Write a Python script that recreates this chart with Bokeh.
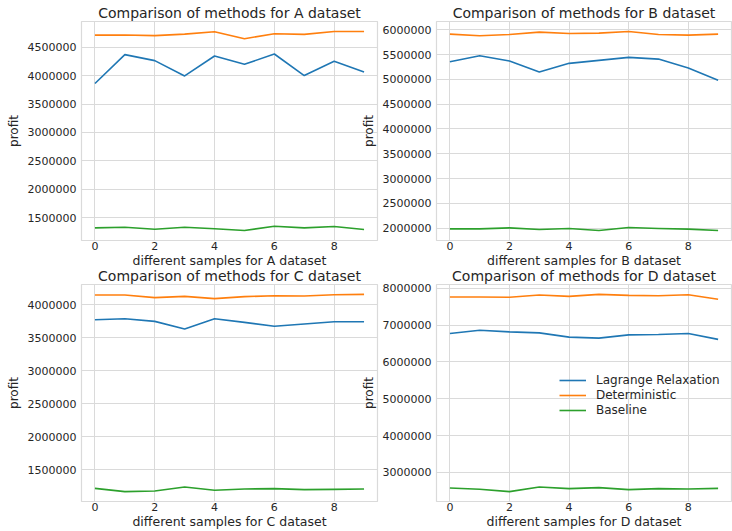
from bokeh.plotting import figure
from bokeh.layouts import column, row
from bokeh.models import FixedTicker, BasicTickFormatter, Range1d
from bokeh.embed import file_html
from bokeh.resources import INLINE

samples = list(range(10))
x_ticks = [0, 2, 4, 6, 8]
series_names = ["Lagrange Relaxation", "Deterministic", "Baseline"]
series_colors = ["#1f77b4", "#ff7f0e", "#2ca02c"]

# dataset A
a_lagrange = [3860000, 4367000, 4262000, 3993000, 4343000, 4198000, 4378000, 4000000, 4250000, 4063000]
a_determ = [4710000, 4712000, 4700000, 4727000, 4769000, 4647000, 4734000, 4722000, 4774000, 4774000]
a_base = [1325000, 1336000, 1300000, 1336000, 1310000, 1278000, 1353000, 1325000, 1348000, 1295000]
a_yticks = [1500000, 2000000, 2500000, 3000000, 3500000, 4000000, 4500000]

# dataset B
b_lagrange = [5357000, 5477000, 5369000, 5148000, 5323000, 5383000, 5443000, 5409000, 5228000, 4981000]
b_determ = [5912000, 5879000, 5905000, 5953000, 5926000, 5932000, 5966000, 5905000, 5892000, 5912000]
b_base = [1986000, 1986000, 2006000, 1972000, 1992000, 1952000, 2012000, 1992000, 1980000, 1952000]
b_yticks = [2000000, 2500000, 3000000, 3500000, 4000000, 4500000, 5000000, 5500000, 6000000]

# dataset C
c_lagrange = [3775000, 3790000, 3750000, 3634000, 3790000, 3735000, 3675000, 3710000, 3745000, 3745000]
c_determ = [4150000, 4150000, 4110000, 4130000, 4095000, 4125000, 4140000, 4135000, 4155000, 4160000]
c_base = [1214000, 1165000, 1175000, 1235000, 1185000, 1205000, 1210000, 1195000, 1200000, 1205000]
c_yticks = [1500000, 2000000, 2500000, 3000000, 3500000, 4000000]

# dataset D
d_lagrange = [6776000, 6865000, 6820000, 6793000, 6677000, 6650000, 6739000, 6748000, 6776000, 6615000]
d_determ = [7769000, 7769000, 7760000, 7823000, 7785000, 7840000, 7812000, 7804000, 7830000, 7705000]
d_base = [2572000, 2537000, 2473000, 2599000, 2554000, 2581000, 2527000, 2554000, 2545000, 2563000]
d_yticks = [3000000, 4000000, 5000000, 6000000, 7000000, 8000000]

FONT = "DejaVu Sans"
TXT = "#262626"
GRID = "#dadada"


def make(name, data, yticks, width, height, bl, br, bt, bb, legend=False, margin=None):
    allv = [v for s in data for v in s]
    lo, hi = min(allv), max(allv)
    pad = 0.05 * (hi - lo)
    kw = {}
    if margin is not None:
        kw["margin"] = margin
    p = figure(width=width, height=height, output_backend="svg", toolbar_location=None,
               x_range=Range1d(-0.45, 9.45), y_range=Range1d(lo - pad, hi + pad),
               min_border_left=bl, min_border_right=br, min_border_top=bt, min_border_bottom=bb,
               title="Comparison of methods for %s dataset" % name, **kw)
    p.border_fill_alpha = 0
    p.background_fill_color = "white"
    p.outline_line_color = GRID
    p.outline_line_width = 1.2
    p.title.align = "center"
    p.title.text_font = FONT
    p.title.text_font_size = "14px"
    p.title.text_font_style = "normal"
    p.title.text_color = TXT
    p.title.standoff = 1
    for ax in (p.xaxis[0], p.yaxis[0]):
        ax.axis_line_color = None
        ax.major_tick_line_color = None
        ax.minor_tick_line_color = None
        ax.major_tick_out = 0
        ax.major_tick_in = 0
        ax.major_label_text_font = FONT
        ax.major_label_text_font_size = "11px"
        ax.major_label_text_color = TXT
        ax.axis_label_text_font = FONT
        ax.axis_label_text_font_style = "normal"
        ax.axis_label_text_color = TXT
    p.xaxis.ticker = FixedTicker(ticks=x_ticks)
    p.yaxis.ticker = FixedTicker(ticks=yticks)
    p.yaxis.formatter = BasicTickFormatter(use_scientific=False)
    p.xaxis.axis_label = "different samples for %s dataset" % name
    p.xaxis.axis_label_text_font_size = "12.5px"
    p.xaxis.major_label_standoff = 1
    p.xaxis.axis_label_standoff = 0
    p.yaxis.axis_label = "profit"
    p.yaxis.axis_label_text_font_size = "12px"
    p.yaxis.major_label_standoff = 5
    p.yaxis.axis_label_standoff = 4
    p.xgrid.grid_line_color = GRID
    p.ygrid.grid_line_color = GRID
    for s, nm, col in zip(data, series_names, series_colors):
        if legend:
            p.line(samples, s, line_color=col, line_width=1.6, line_join="round", legend_label=nm)
        else:
            p.line(samples, s, line_color=col, line_width=1.6, line_join="round")
    if legend:
        lg = p.legend[0]
        lg.location = (123, 84)
        lg.padding = 0
        lg.margin = 0
        lg.spacing = 1
        lg.glyph_width = 27
        lg.glyph_height = 14
        lg.label_height = 14
        lg.label_standoff = 10
        lg.label_text_font = FONT
        lg.label_text_font_size = "12px"
        lg.label_text_color = TXT
        lg.background_fill_alpha = 0
        lg.border_line_color = None
    return p


pa = make("A", [a_lagrange, a_determ, a_base], a_yticks, 380, 270, 81, 3, 21, 29)
pb = make("B", [b_lagrange, b_determ, b_base], b_yticks, 374, 270, 78, 1, 21, 29, margin=(0, 0, 0, -22))
pc = make("C", [c_lagrange, c_determ, c_base], c_yticks, 380, 267, 81, 3, 20, 28)
pd = make("D", [d_lagrange, d_determ, d_base], d_yticks, 374, 267, 78, 1, 20, 28, legend=True, margin=(0, 0, 0, -22))

r1 = row(pa, pb)
r2 = row(pc, pd, margin=(-6, 0, 0, 0))
p = column(r1, r2, styles={"position": "absolute", "left": "0px", "top": "0px"})

open("out.html", "w").write(file_html(p, INLINE))
